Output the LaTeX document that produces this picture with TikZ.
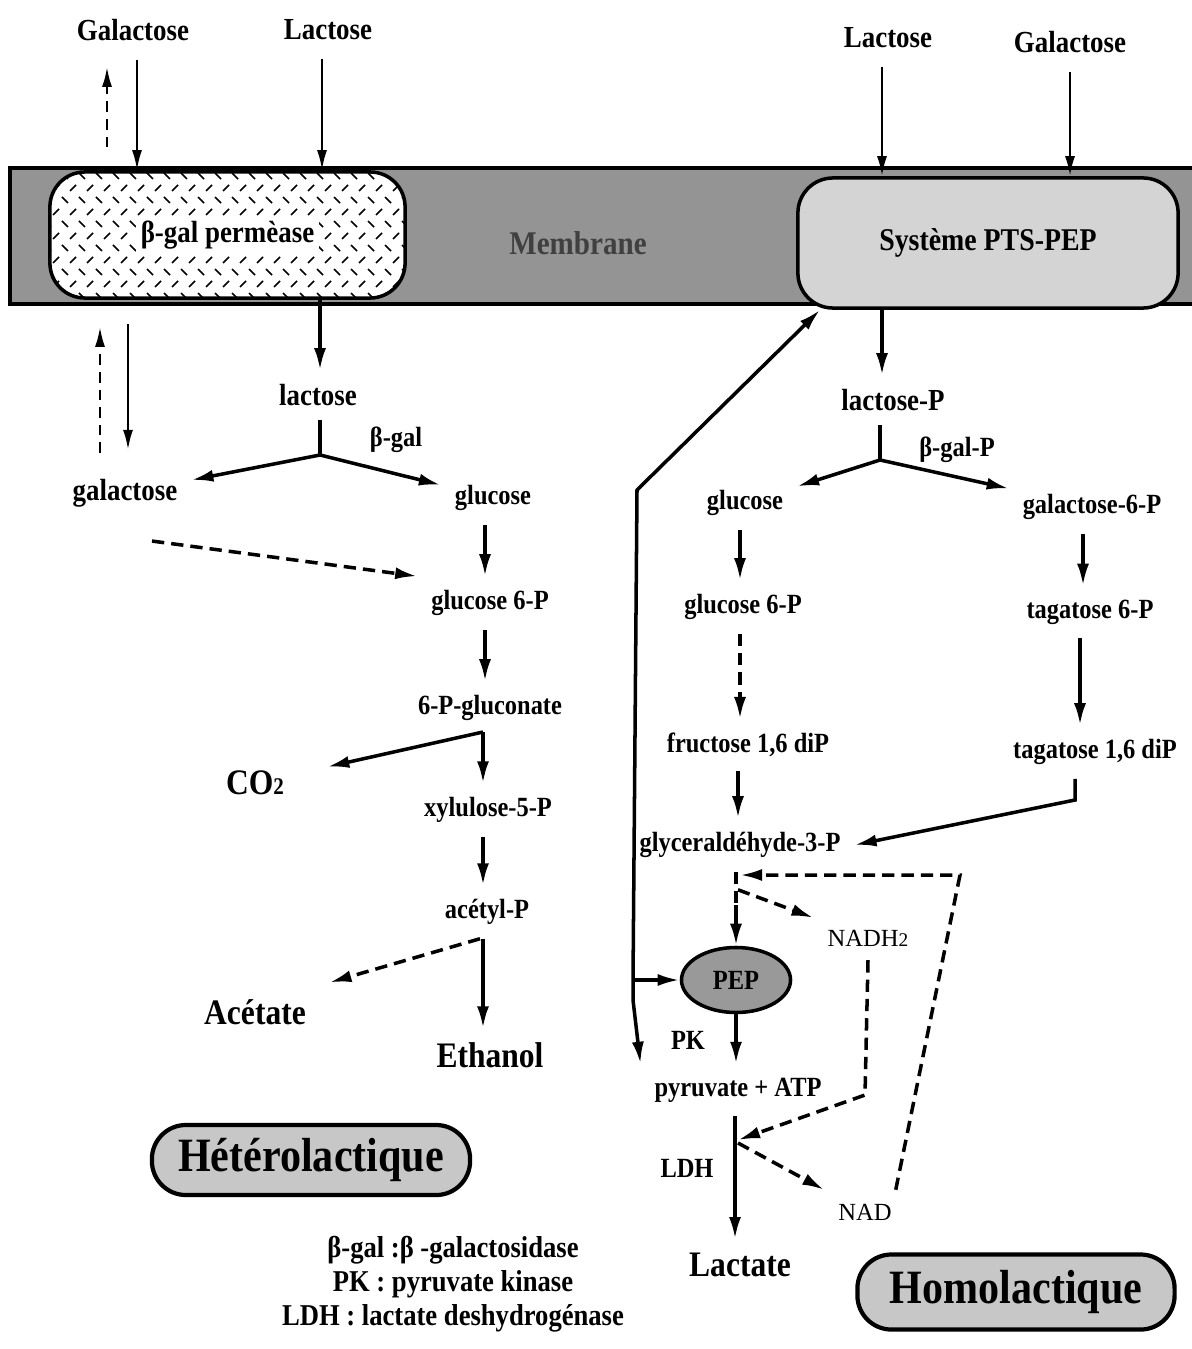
\documentclass[tikz,border=0pt]{standalone}
\usepackage{fontspec}
\setmainfont{Liberation Serif}[FakeStretch=0.88]
\newfontfamily\cofont{Liberation Serif}
\usetikzlibrary{arrows.meta,shapes.geometric,calc}
\tikzset{
    sugar/.style={font=\fontsize{7.9}{9}\selectfont\bfseries, inner sep=1pt, outer sep=3pt},
    bigsugar/.style={font=\fontsize{8.7}{10}\selectfont\bfseries, inner sep=1pt, outer sep=3pt},
    prod/.style={font=\fontsize{10.2}{11}\selectfont\bfseries, inner sep=1pt, outer sep=3pt},
    cof/.style={font=\cofont\fontsize{7}{8}\selectfont, inner sep=1pt, outer sep=3pt},
    pill/.style={draw, line width=1.2pt, rounded corners=3.4mm, fill=black!22, font=\fontsize{13.6}{15}\selectfont\bfseries},
    permbox/.style={draw, line width=1pt, rounded corners=3.5mm, minimum width=3.55cm, minimum height=1.26cm},
    ptsbox/.style={draw, line width=1pt, rounded corners=3.5mm, fill=black!17, minimum width=3.8cm, minimum height=1.3cm, font=\fontsize{9}{10}\selectfont\bfseries},
    pepnode/.style={ellipse, draw, line width=1pt, fill=black!40, minimum width=1.09cm, minimum height=0.65cm, inner sep=0pt, font=\fontsize{7.9}{9}\selectfont\bfseries},
    flow/.style={line width=1pt, -{Latex[length=2.2mm,width=1.2mm]}},
    dflow/.style={flow, dash pattern=on 3.5pt off 2pt},
    inflow/.style={line width=0.7pt, -{Latex[length=2mm,width=1mm]}},
    dinflow/.style={inflow, dash pattern=on 3pt off 2pt},
    stub/.style={line width=1pt},
    dstub/.style={stub, dash pattern=on 3.5pt off 2pt}
}

\begin{document}
\begin{tikzpicture}[x=0.01cm, y=-0.01cm]
    \useasboundingbox (0,0) rectangle (1192,1349);

    % membrane
    \fill[black!42] (10,168) rectangle (1192,304);
    \draw[line width=1pt] (1192,168) -- (10,168) -- (10,304) -- (1192,304);

    % permease
    \fill[white, rounded corners=3.5mm] (50,172) rectangle (405,298);
    \begin{scope}
        \clip[rounded corners=3.5mm] (50,172) rectangle (405,298);
        \foreach \row in {0,...,10} {
            \pgfmathsetmacro\tilt{mod(\row,2)==0 ? 3 : -3}
            \foreach \col in {0,...,21}
                \draw[line width=0.45pt] ({45+\col*17+mod(\row,2)*8}, {176+\row*12-\tilt}) -- ++(6,{2*\tilt});
        }
    \end{scope}
    \node[permbox] (perm) at (227.5,235) {};
    \node[bigsugar, fill=white, inner sep=1.5pt, outer sep=0pt] (permtxt) at (perm) {β-gal permèase};
    \node[text=black!75, font=\fontsize{9.4}{10}\selectfont\bfseries] (memtxt) at (578,243) {Membrane};
    \node[ptsbox] (pts) at (988,243) {Système PTS-PEP};

    % outside
    \node[bigsugar] (galOutL) at (133,30) {Galactose};
    \node[bigsugar] (lacOutL) at (328,30) {Lactose};
    \node[bigsugar] (lacOutR) at (888,38) {Lactose};
    \node[bigsugar] (galOutR) at (1070,42) {Galactose};

    \draw[dinflow, shorten <=2.3mm, shorten >=1.2mm] (perm.north -| 107,0) -- (galOutL.south -| 107,0);
    \draw[inflow, shorten <=0.5mm] (galOutL.south -| 137,0) -- (perm.north -| 137,0);
    \draw[inflow, shorten <=0.5mm] (lacOutL.south -| 322,0) -- (perm.north -| 322,0);
    \draw[inflow, shorten <=0.5mm] (lacOutR.south -| 882,0) -- (pts.north -| 882,0);
    \draw[inflow, shorten <=0.5mm] (galOutR.south -| 1070,0) -- (pts.north -| 1070,0);

    % heterolactic side
    \node[bigsugar] (lacIn) at (318,395) {lactose};
    \node[sugar] (betagal) at (396,440) {β-gal};
    \node[bigsugar] (galIn) at (125,493) {galactose};
    \node[sugar] (glcL) at (493,498) {glucose};
    \node[sugar] (g6pL) at (490,603) {glucose 6-P};
    \node[sugar] (pglu) at (490,708) {6-P-gluconate};
    \node[prod] (co2) at (255,783) {CO{\fontsize{6.8}{7}\selectfont 2}};
    \node[sugar] (xyl) at (488,810) {xylulose-5-P};
    \node[sugar] (acp) at (487,912) {acétyl-P};
    \node[prod] (acet) at (255,1012) {Acétate};
    \node[prod] (etoh) at (490,1055) {Ethanol};
    \node[pill, minimum width=3.18cm, minimum height=0.7cm] (hetero) at (311,1160) {Hétérolactique};
    \node[font=\fontsize{8.6}{9.7}\selectfont\bfseries, align=center] (legend) at (453,1284)
        {β-gal :β -galactosidase\\PK : pyruvate kinase\\LDH : lactate deshydrogénase};

    \coordinate (splitL) at (320,455);
    \coordinate (splitCO2) at (483,732);
    \draw[dinflow, shorten <=1.2mm, shorten >=2.7mm] (galIn.north -| 100,0) -- (perm.south -| 100,0);
    \draw[inflow, shorten <=2.4mm, shorten >=1.5mm] (perm.south -| 128,0) -- (galIn.north -| 128,0);
    \draw[flow] (perm.south -| 320,0) -- (lacIn.north -| 320,0);
    \draw[stub] (lacIn.south -| splitL) -- (splitL);
    \draw[flow] (splitL) -- (galIn);
    \draw[flow] (splitL) -- (glcL);
    \draw[dflow] ($(galIn.south)+(27,20)$) -- (g6pL.north west);
    \draw[flow] (glcL.south -| 485,0) -- (g6pL.north -| 485,0);
    \draw[flow] (g6pL.south -| 485,0) -- (pglu.north -| 485,0);
    \draw[flow, shorten >=3mm] (splitCO2) -- (co2);
    \draw[flow] (splitCO2) -- (xyl.north -| splitCO2);
    \draw[flow] (xyl.south -| 483,0) -- (acp.north -| 483,0);
    \draw[dflow, shorten >=1mm] (acp.south -| 480,0) -- (acet.north east);
    \draw[flow] (acp.south -| 483,0) -- (etoh.north -| 483,0);

    % homolactic side
    \node[bigsugar] (lacP) at (893,400) {lactose-P};
    \node[sugar] (betagalP) at (957,450) {β-gal-P};
    \node[sugar] (glcR) at (745,503) {glucose};
    \node[sugar] (g6pR) at (743,607) {glucose 6-P};
    \node[sugar] (f16) at (748,745) {fructose 1,6 diP};
    \node[sugar] (gap) at (740,845) {glyceraldéhyde-3-P};
    \node[sugar] (gal6p) at (1092,507) {galactose-6-P};
    \node[sugar] (tag6p) at (1090,612) {tagatose 6-P};
    \node[sugar] (tag16) at (1095,752) {tagatose 1,6 diP};
    \node[cof] (nadh) at (868,938) {NADH{\fontsize{5.5}{6}\selectfont 2}};
    \node[pepnode] (pep) at (736,980) {PEP};
    \node[sugar] (pk) at (688,1040) {PK};
    \node[sugar] (pyr) at (738,1090) {pyruvate + ATP};
    \node[sugar] (ldh) at (687,1168) {LDH};
    \node[cof] (nad) at (865,1212) {NAD};
    \node[prod] (lact) at (740,1265) {Lactate};
    \node[pill, minimum width=3.17cm, minimum height=0.75cm] (homo) at (1016,1292) {Homolactique};

    \coordinate (splitR) at (880,460);
    \coordinate (tagBend) at (1075,800);
    \coordinate (gapMid) at (736,905);
    \coordinate (nadTurn) at (960,875);
    \coordinate (nadhDrop) at (865,1095);
    \coordinate (ldhIn) at (738,1140);
    \coordinate (ptsTurn) at (637,490);
    \coordinate (pepJoin) at (633,980);
    \coordinate (pyrBend) at (633,1000);

    \draw[flow] (pts.south -| 882,0) -- (lacP.north -| 882,0);
    \draw[stub] (lacP.south -| splitR) -- (splitR);
    \draw[flow] (splitR) -- (glcR);
    \draw[flow] (splitR) -- (gal6p);
    \draw[flow] (glcR.south -| 740,0) -- (g6pR.north -| 740,0);
    \draw[dflow] (g6pR.south -| 740,0) -- (f16.north -| 740,0);
    \draw[flow] (f16.south -| 738,0) -- (gap.north -| 738,0);
    \draw[flow] (gal6p.south -| 1083,0) -- (tag6p.north -| 1083,0);
    \draw[flow] (tag6p.south -| 1080,0) -- (tag16.north -| 1080,0);
    \draw[flow] (tag16.south -| tagBend) -- (tagBend) -- (gap.east);

    \draw[dstub] (gap.south -| gapMid) -- (gapMid);
    \draw[flow] (gapMid) -- (pep.north);
    \draw[dflow] ($(gap.south)+(-2,18)$) -- (nadh);
    \draw[dflow] ($(nad.north east)+(-10,0)$) -- (nadTurn) -- (gap.south |- nadTurn);
    \draw[dflow] (nadh.south) -- (nadhDrop) -- (ldhIn);
    \draw[flow] (pep.south) -- (pyr.north -| pep.south);
    \draw[flow] (pyr.south -| 735,0) -- (lact.north -| 735,0);
    \draw[dflow] ($(ldhIn)+(0,3)$) -- (nad);

    \draw[flow] (pepJoin) -- (ptsTurn) -- ($(pts.south west)+(24,0)$);
    \draw[flow] (pepJoin) -- (pep);
    \draw[flow] (pepJoin) -- (pyrBend) -- (pyr.north west);
\end{tikzpicture}
\end{document}
